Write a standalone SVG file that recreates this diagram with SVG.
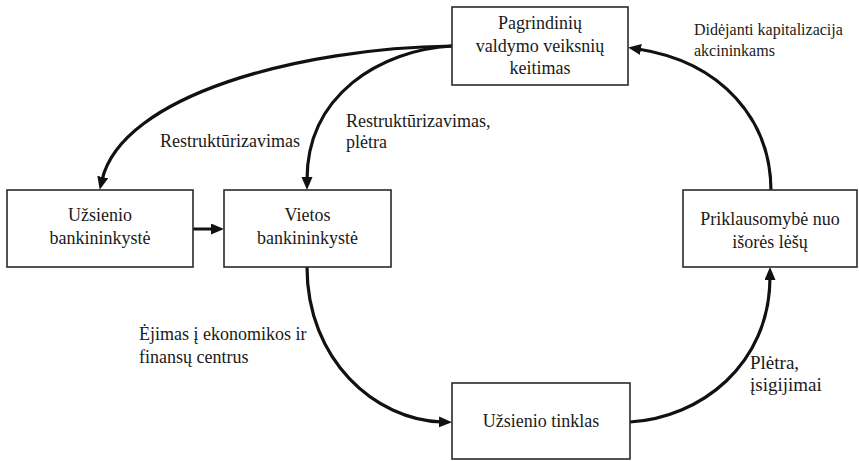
<svg xmlns="http://www.w3.org/2000/svg" width="859" height="461" viewBox="0 0 859 461">
  <style>
    .box { fill: #ffffff; stroke: #2a2a2a; stroke-width: 1.6; }
    text { font-family: 'Liberation Serif', 'Times New Roman', serif; font-size: 18px; fill: #1a1a1a; }
    .mid { text-anchor: middle; }
    .small { font-size: 16px; }
    .big { font-size: 19px; }
    .link { fill: none; stroke: #111111; stroke-width: 3.2; stroke-linecap: round; }
  </style>
  <defs>
    <marker id="arrow" markerUnits="userSpaceOnUse" markerWidth="14" markerHeight="12" refX="3" refY="5.5" orient="auto">
      <path d="M0,0 L13,5.5 L0,11 z" fill="#111111"/>
    </marker>
  </defs>

  <rect width="859" height="461" fill="#ffffff"/>

  <g id="connectors">
    <path class="link" d="M452,46 C300,48 122,95 102,180" marker-end="url(#arrow)"/>
    <path class="link" d="M452,46 C380,50 307,95 307,180" marker-end="url(#arrow)"/>
    <path class="link" d="M193,229 L214,229" marker-end="url(#arrow)"/>
    <path class="link" d="M307,267 C307,360 375,420 442,422" marker-end="url(#arrow)"/>
    <path class="link" d="M630,422 C700,418 770,365 770,277" marker-end="url(#arrow)"/>
    <path class="link" d="M771,191 C771,120 722,62 638,49" marker-end="url(#arrow)"/>
  </g>

  <g id="node-valdymas">
    <rect class="box" x="452" y="7" width="176" height="78"/>
    <text class="mid" x="540" y="29">Pagrindinių</text>
    <text class="mid" x="540" y="52">valdymo veiksnių</text>
    <text class="mid" x="540" y="74">keitimas</text>
  </g>

  <g id="node-uzsienio-bankininkyste">
    <rect class="box" x="7" y="190" width="186" height="77"/>
    <text class="mid" x="100" y="221">Užsienio</text>
    <text class="mid" x="100" y="244">bankininkystė</text>
  </g>

  <g id="node-vietos-bankininkyste">
    <rect class="box" x="224" y="190" width="167" height="77"/>
    <text class="mid" x="307.5" y="221">Vietos</text>
    <text class="mid" x="307.5" y="244">bankininkystė</text>
  </g>

  <g id="node-priklausomybe">
    <rect class="box" x="683" y="190" width="174" height="77"/>
    <text class="mid" x="770" y="225">Priklausomybė nuo</text>
    <text class="mid" x="770" y="248">išorės lėšų</text>
  </g>

  <g id="node-uzsienio-tinklas">
    <rect class="box" x="452" y="383" width="178" height="76"/>
    <text class="mid" x="541" y="427">Užsienio tinklas</text>
  </g>

  <g id="labels">
    <text x="160" y="147">Restruktūrizavimas</text>
    <text x="346" y="127">Restruktūrizavimas,</text>
    <text x="346" y="148">plėtra</text>
    <text class="small" x="694" y="35">Didėjanti kapitalizacija</text>
    <text class="small" x="694" y="56">akcininkams</text>
    <text x="139" y="340">Ėjimas į ekonomikos ir</text>
    <text x="139" y="363">finansų centrus</text>
    <text class="big" x="750" y="369">Plėtra,</text>
    <text class="big" x="750" y="391">įsigijimai</text>
  </g>
</svg>
